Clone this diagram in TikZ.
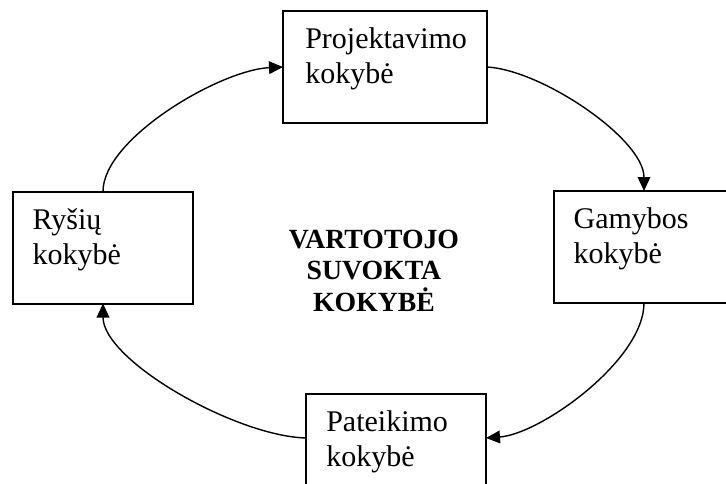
\documentclass[tikz,border=0pt]{standalone}
\usepackage{fontspec}
\setmainfont{Liberation Serif}
\usetikzlibrary{arrows.meta}
\begin{document}
\begin{tikzpicture}[x=0.75pt,y=-0.75pt,
  qbox/.style={draw, line width=1.5pt, minimum width=135pt, minimum height=84pt,
    inner sep=0pt, outer sep=0pt},
  qlabel/.style={anchor=north west, inner sep=0pt, align=left,
    font=\fontsize{22.5}{26.25}\selectfont},
  centre/.style={anchor=north, inner sep=0pt, align=center,
    font=\bfseries\fontsize{20.8}{23.5}\selectfont},
  flow/.style={line width=1.05pt, -{Triangle[length=10.5pt,width=9.5pt]}}]
\clip (0,0) rectangle (726,483);

% quality boxes
\node[qbox, minimum width=153pt] (proj) at (385,67) {};
\node[qbox] (rys) at (103,247.5) {};
\node[qbox] (gam) at (644,247) {};
\node[qbox] (pat) at (396,450) {};

% box captions
\node[qlabel] (projt) at ([xshift=16.5pt,yshift=-12pt]proj.north west) {Projektavimo\\kokybė};
\node[qlabel] (rryst) at ([xshift=14.5pt,yshift=-12.5pt]rys.north west) {Ryšių\\kokybė};
\node[qlabel] (gamt) at ([xshift=14.5pt,yshift=-12.5pt]gam.north west) {Gamybos\\kokybė};
\node[qlabel] (patt) at ([xshift=15pt,yshift=-12pt]pat.north west) {Pateikimo\\kokybė};

% centre title
\node[centre] (vsk) at (374,230) {VARTOTOJO\\SUVOKTA\\KOKYBĖ};

% attachment points on the bottom box
\coordinate (patE) at ([yshift=-33pt]pat.north east);
\coordinate (patW) at ([yshift=-33pt]pat.north west);

% cycle of arcs
\draw[flow] (rys.north) .. controls +(0,-53) and +(-63,3) .. (proj.west);
\draw[flow] (proj.east) .. controls +(55,3) and +(0,-52) .. (gam.north);
\draw[flow] (gam.south) .. controls +(0,57) and +(55,-4) .. (patE);
\draw[flow] (patW) .. controls +(-71,-2) and +(0,57) .. (rys.south);
\end{tikzpicture}
\end{document}
